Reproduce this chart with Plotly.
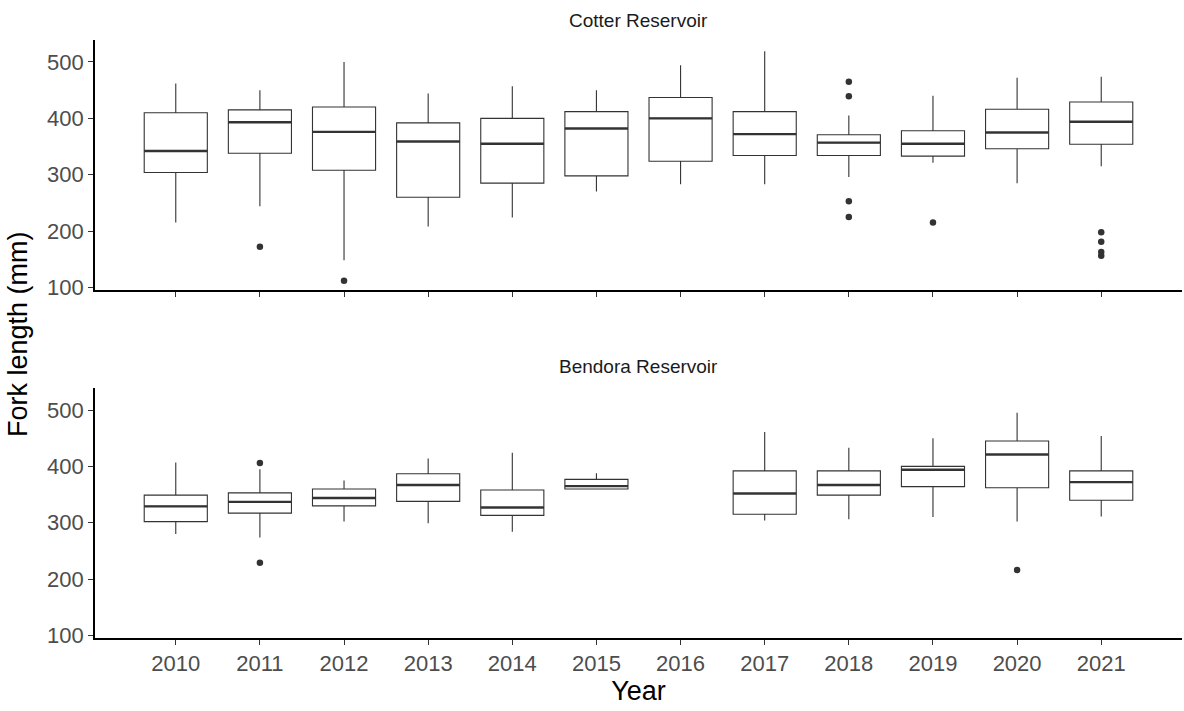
import plotly.graph_objects as go

# ---- data -----------------------------------------------------------------
years = [2010, 2011, 2012, 2013, 2014, 2015, 2016, 2017, 2018, 2019, 2020, 2021]

# Cotter Reservoir box statistics (fork length, mm)
cotter_low = [215, 244, 148, 208, 224, 270, 283, 283, 296, 321, 285, 315]
cotter_q1 = [304, 338, 308, 260, 285, 298, 324, 334, 334, 333, 346, 354]
cotter_med = [342, 393, 376, 359, 355, 382, 400, 372, 357, 355, 375, 394]
cotter_q3 = [410, 415, 420, 392, 400, 412, 437, 412, 371, 378, 416, 429]
cotter_high = [462, 450, 500, 444, 457, 450, 494, 519, 405, 440, 472, 474]
cotter_out_x = [2011, 2012, 2018, 2018, 2018, 2018, 2019, 2021, 2021, 2021, 2021]
cotter_out_y = [172, 112, 465, 439, 253, 225, 215, 198, 181, 163, 156]

# Bendora Reservoir box statistics (no sampling in 2016)
bendora_years = [2010, 2011, 2012, 2013, 2014, 2015, 2017, 2018, 2019, 2020, 2021]
bendora_low = [280, 274, 302, 299, 284, 360, 304, 306, 310, 302, 311]
bendora_q1 = [302, 317, 330, 338, 313, 360, 315, 349, 364, 362, 340]
bendora_med = [329, 337, 344, 367, 327, 365, 352, 367, 394, 421, 372]
bendora_q3 = [349, 353, 360, 387, 358, 377, 392, 392, 400, 445, 392]
bendora_high = [407, 395, 375, 414, 424, 388, 461, 433, 450, 495, 454]
bendora_out_x = [2011, 2011, 2020]
bendora_out_y = [406, 229, 216]

panel_titles = ["Cotter Reservoir", "Bendora Reservoir"]
y_ticks = [100, 200, 300, 400, 500]

# ---- styling ----------------------------------------------------------------
FONT = "Liberation Sans, Arial, sans-serif"
LINE = "#333333"
BOX_W = 0.75


def median_segments(xs, meds):
    """Horizontal median bars spanning each box."""
    sx, sy = [], []
    for x, m in zip(xs, meds):
        sx += [x - BOX_W / 2, x + BOX_W / 2, None]
        sy += [m, m, None]
    return sx, sy


fig = go.Figure()

panels = [
    ("x", "y", years, cotter_low, cotter_q1, cotter_med, cotter_q3, cotter_high,
     cotter_out_x, cotter_out_y),
    ("x2", "y2", bendora_years, bendora_low, bendora_q1, bendora_med, bendora_q3,
     bendora_high, bendora_out_x, bendora_out_y),
]

for xa, ya, xs, lo, q1, med, q3, hi, ox, oy in panels:
    fig.add_trace(go.Box(
        x=xs, q1=q1, median=med, q3=q3, lowerfence=lo, upperfence=hi,
        width=BOX_W, whiskerwidth=0, boxpoints=False,
        fillcolor="white", line=dict(color=LINE, width=1.1),
        xaxis=xa, yaxis=ya, showlegend=False, hoverinfo="skip",
    ))
    mx, my = median_segments(xs, med)
    fig.add_trace(go.Scatter(
        x=mx, y=my, mode="lines", line=dict(color=LINE, width=2.4),
        xaxis=xa, yaxis=ya, showlegend=False, hoverinfo="skip",
    ))
    fig.add_trace(go.Scatter(
        x=ox, y=oy, mode="markers",
        marker=dict(color=LINE, size=6.5, line=dict(width=0)),
        xaxis=xa, yaxis=ya, showlegend=False, hoverinfo="skip",
    ))

x_range = [2009.04, 2021.96]
y_range = [95.5, 539]

axis_common = dict(
    showline=True, linecolor="black", linewidth=1.6,
    ticks="outside", ticklen=5, tickwidth=1.2, tickcolor=LINE,
    showgrid=False, zeroline=False,
    tickfont=dict(family=FONT, size=22, color="#4D4D4D"),
)

fig.update_layout(
    width=1184, height=711,
    margin=dict(l=95, r=2, t=40, b=73),
    paper_bgcolor="white", plot_bgcolor="white",
    font=dict(family=FONT),
    xaxis=dict(axis_common, range=x_range, tickvals=years, showticklabels=False,
               anchor="y"),
    yaxis=dict(axis_common, range=y_range, tickvals=y_ticks,
               domain=[0.582, 1.0], anchor="x"),
    xaxis2=dict(axis_common, range=x_range, tickvals=years,
                ticktext=[str(y) for y in years], anchor="y2",
                title=dict(text="Year", font=dict(family=FONT, size=27, color="black"),
                           standoff=6)),
    yaxis2=dict(axis_common, range=y_range, tickvals=y_ticks,
                domain=[0.0, 0.418], anchor="x2"),
)

# Panel strip titles and the shared y title, positioned in paper coordinates
plot_h = 711 - 40 - 73
plot_w = 1184 - 95 - 2
fig.add_annotation(text=panel_titles[0], x=0.5, y=(711 - 73 - 20) / plot_h,
                   xref="paper", yref="paper", yanchor="middle", showarrow=False,
                   font=dict(family=FONT, size=19, color="#1A1A1A"))
fig.add_annotation(text=panel_titles[1], x=0.5, y=(711 - 73 - 366) / plot_h,
                   xref="paper", yref="paper", yanchor="middle", showarrow=False,
                   font=dict(family=FONT, size=19, color="#1A1A1A"))
fig.add_annotation(text="Fork length (mm)", x=(18 - 95) / plot_w,
                   y=(711 - 73 - 334) / plot_h, xref="paper", yref="paper",
                   xanchor="center", yanchor="middle", textangle=-90,
                   showarrow=False, font=dict(family=FONT, size=27, color="black"))

fig.write_html("out.html")
